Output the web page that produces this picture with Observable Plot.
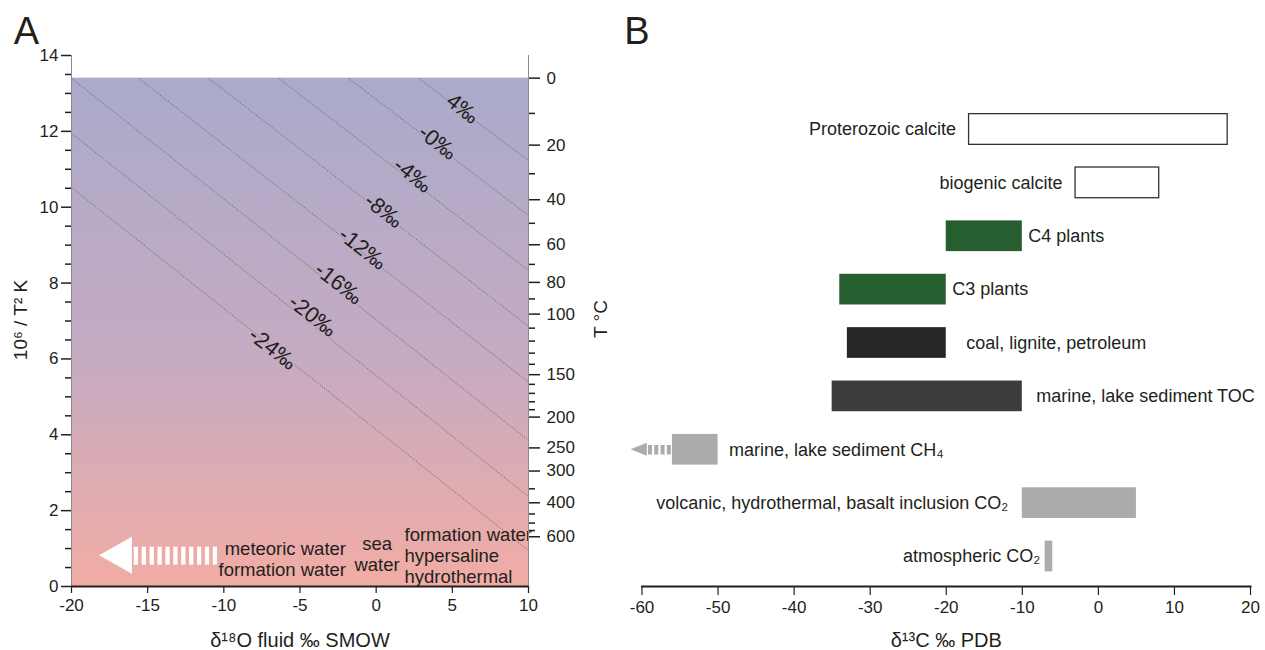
<!DOCTYPE html>
<html>
<head>
<meta charset="utf-8">
<script src="https://cdn.jsdelivr.net/npm/d3@7"></script>
<script src="https://cdn.jsdelivr.net/npm/@observablehq/plot@0.6"></script>
<style>
  body { margin: 0; background: #fff; }
  #wrap { display: flex; width: 1265px; height: 650px; }
  #wrap svg { display: block; }
</style>
</head>
<body>
<div id="wrap"></div>
<script>
// ================= DATA: panel A =================
const d18OTicks = [-20, -15, -10, -5, 0, 5, 10];
const invT2Major = [0, 2, 4, 6, 8, 10, 12, 14];
const invT2Minor = [0.5, 1, 1.5, 2.5, 3, 3.5, 4.5, 5, 5.5, 6.5, 7, 7.5, 8.5, 9, 9.5, 10.5, 11, 11.5, 12.5, 13, 13.5];
const tempMajorC = [0, 20, 40, 60, 80, 100, 150, 200, 250, 300, 400, 600];
const tempMinorC = [10, 30, 50, 70, 90, 110, 120, 130, 140, 160, 170, 180, 190, 350, 450, 500, 550];

const contourLabels = ["4‰", "-0‰", "-4‰", "-8‰", "-12‰", "-16‰", "-20‰", "-24‰"];
const contourX1 = [2.78, -1.82, -6.41, -11.0, -15.6, -20, -20, -20];
const contourY1 = [13.4, 13.4, 13.4, 13.4, 13.4, 13.4, 11.95, 10.52];
const contourX2 = [10, 10, 10, 10, 10, 10, 10, 10];
const contourY2 = [11.23, 9.78, 8.33, 6.86, 5.39, 3.85, 2.37, 0.95];
const contourLabelX = [5.67, 4.03, 2.39, 0.48, -0.90, -2.47, -4.18, -6.80];
const contourLabelY = [12.60, 11.71, 10.84, 9.91, 8.91, 7.99, 7.14, 6.27];

const waterTypes = ["meteoric water\nformation water", "sea\nwater", "formation water\nhypersaline\nhydrothermal"];
const waterX = [-1.98, 0.06, 1.86];
const waterY = [0.74, 0.86, 0.83];

// ================= DATA: panel B =================
const carbonSources = [
  "Proterozoic calcite", "biogenic calcite", "C4 plants", "C3 plants",
  "coal, lignite, petroleum", "marine, lake sediment TOC", "marine, lake sediment CH₄",
  "volcanic, hydrothermal, basalt inclusion CO₂", "atmospheric CO₂"
];
const d13cMin = [-17, -3, -20, -34, -33, -35, -56, -10, -7];
const d13cMax = [17, 8, -10, -20, -20, -10, -50, 5, -6];
const d13cTicks = [-60, -50, -40, -30, -20, -10, 0, 10, 20];

// ================= STYLE / LAYOUT =================
const FONT = "'Liberation Sans', Arial, Helvetica, sans-serif";
const INK = "#231f20";
const sourceFill = ["#ffffff", "#ffffff", "#265e2f", "#265e2f", "#262626", "#3c3c3e", "#aaabad", "#aaabad", "#aaabad"];
const sourceOutlined = [true, true, false, false, false, false, false, false, false];
const labelSide = ["left", "left", "right", "right", "right", "right", "right", "left", "left"];
const labelGapPx = [13, 13, 6, 6, 20, 14, 11, 14, 5];
const BAR_HALF = 0.2876;

const gradStops = [[0, "#aaaacb"], [0.55, "#c5abc2"], [1, "#f2aca4"]];

// temperature (°C) -> 10^6/T^2 (K) for the secondary axis
const T2Y = c => 1e6 / Math.pow(c + 273.15, 2);
const Y_TOP_FILL = T2Y(0);

// arrows (annotation glyphs)
const arrowA = {tip: -18.16, base: -16.0, end: -10.42, y: 0.81, half: 0.49};
const arrowB = {tip: -61.45, base: -59.3, end: -56, row: 6, half: 0.122};

const center = {textAnchor: "middle", lineAnchor: "middle"};

// ================= PANEL A =================
const cIdx = d3.range(contourLabels.length);
const haloScale = d3.scaleLinear()
  .domain(gradStops.map(s => Y_TOP_FILL * (1 - s[0])))
  .range(gradStops.map(s => s[1]))
  .interpolate(d3.interpolateRgb);

const majorPos = tempMajorC.map(T2Y);
const labelByPos = new Map(majorPos.map((p, i) => [p, String(tempMajorC[i])]));
const wIdx = d3.range(waterTypes.length);
const waterAnchor = ["end", "middle", "start"];

const panelA = Plot.plot({
  width: 620, height: 650,
  marginLeft: 71, marginRight: 92, marginTop: 55, marginBottom: 64,
  x: {domain: [-20, 10]},
  y: {domain: [0, 14]},
  color: {type: "identity"},
  style: {fontFamily: FONT, fontSize: "17px", color: INK, background: "transparent"},
  marks: [
    Plot.rect([0], {x1: -20, x2: 10, y1: 0, y2: Y_TOP_FILL, fill: "url(#bgGradA)"}),
    Plot.link(cIdx, {
      x1: i => contourX1[i], y1: i => contourY1[i], x2: i => contourX2[i], y2: i => contourY2[i],
      stroke: "#5a5a5a", strokeWidth: 0.85, strokeDasharray: "1.1,1.4"
    }),
    Plot.text(cIdx, {
      x: i => contourLabelX[i], y: i => contourLabelY[i], text: i => contourLabels[i],
      rotate: 38, fontSize: 22, fill: INK, stroke: i => haloScale(contourLabelY[i]), strokeWidth: 3
    }),
    // white arrow (meteoric direction)
    Plot.ruleY([arrowA.y], {x1: arrowA.base + 0.12, x2: arrowA.end, stroke: "white", strokeWidth: 18, strokeDasharray: "4.3,3.6"}),
    Plot.areaY([arrowA.tip, arrowA.base], {
      x: d => d, y1: d => d === arrowA.tip ? arrowA.y : arrowA.y - arrowA.half,
      y2: d => d === arrowA.tip ? arrowA.y : arrowA.y + arrowA.half, fill: "white", curve: "linear"
    }),
    ...waterAnchor.map((a) => Plot.text(wIdx.filter(i => waterAnchor[i] === a), {
      x: i => waterX[i], y: i => waterY[i], text: i => waterTypes[i],
      textAnchor: a, fontSize: 18.5, lineHeight: 1.13, fill: INK
    })),
    // axes lines
    Plot.ruleX([-20], {y1: 0, y2: 14, stroke: "#8a8a8a", strokeWidth: 1}),
    Plot.ruleX([10], {y1: 0, y2: 14, stroke: "#8a8a8a", strokeWidth: 1}),
    Plot.ruleY([0], {x1: -20, x2: 10, stroke: INK, strokeWidth: 2}),
    Plot.axisY(invT2Major, {anchor: "left", tickSize: 10, tickPadding: 3, fontSize: 17, strokeWidth: 1.5, tickFormat: d => String(d), label: null}),
    Plot.axisY(invT2Minor, {anchor: "left", tickSize: 6, strokeWidth: 1.5, tickFormat: () => "", label: null}),
    Plot.axisY(majorPos, {anchor: "right", tickSize: 11, tickPadding: 7, fontSize: 17, strokeWidth: 1.5, tickFormat: d => labelByPos.get(d), label: null}),
    Plot.axisY(tempMinorC.map(T2Y), {anchor: "right", tickSize: 6, strokeWidth: 1.5, tickFormat: () => "", label: null}),
    Plot.axisX(d18OTicks, {anchor: "bottom", tickSize: 7, tickPadding: 5, fontSize: 17, strokeWidth: 1.2, tickFormat: d => String(d), label: null}),
    // titles
    Plot.text(["δ¹⁸O fluid ‰ SMOW"], {frameAnchor: "bottom", dy: 54, fontSize: 20, fill: INK, ...center}),
    Plot.text(["10⁶ / T² K"], {frameAnchor: "left", dx: -51, dy: -1, rotate: -90, fontSize: 19, fill: INK, ...center}),
    Plot.text(["T °C"], {frameAnchor: "right", dx: 72, dy: -2, rotate: -90, fontSize: 19, fill: INK, ...center}),
    Plot.text(["A"], {frameAnchor: "top-left", dx: -45, dy: -24, fontSize: 38, fill: INK, ...center})
  ]
});

// gradient definition for the background fill
{
  const svg = d3.select(panelA.tagName.toLowerCase() === "svg" ? panelA : panelA.querySelector("svg"));
  const g = svg.insert("defs", ":first-child").append("linearGradient")
    .attr("id", "bgGradA").attr("x1", 0).attr("y1", 0).attr("x2", 0).attr("y2", 1);
  gradStops.forEach(([o, c]) => g.append("stop").attr("offset", o).attr("stop-color", c));
}

// ================= PANEL B =================
const rows = d3.range(carbonSources.length);
const panelB = Plot.plot({
  width: 645, height: 650,
  marginLeft: 21.5, marginRight: 15, marginTop: 55, marginBottom: 64,
  x: {domain: [-60, 20]},
  y: {domain: [0, 8], range: [129, 556], axis: null},
  color: {type: "identity"},
  style: {fontFamily: FONT, fontSize: "17px", color: INK, background: "transparent"},
  marks: [
    Plot.rect(rows, {
      x1: i => d13cMin[i], x2: i => d13cMax[i],
      y1: i => i - BAR_HALF, y2: i => i + BAR_HALF, fill: i => sourceFill[i]
    }),
    Plot.rect(rows.filter(i => sourceOutlined[i]), {
      x1: i => d13cMin[i], x2: i => d13cMax[i],
      y1: i => i - BAR_HALF, y2: i => i + BAR_HALF, fill: "none", stroke: "#333", strokeWidth: 1.3
    }),
    // gray arrow for CH4 (extends to more negative values)
    Plot.ruleY([arrowB.row], {x1: arrowB.base + 0.15, x2: arrowB.end, stroke: "#aaabad", strokeWidth: 9.5, strokeDasharray: "4,2.3"}),
    Plot.areaY([arrowB.tip, arrowB.base], {
      x: d => d, y1: d => d === arrowB.tip ? arrowB.row : arrowB.row - arrowB.half,
      y2: d => d === arrowB.tip ? arrowB.row : arrowB.row + arrowB.half, fill: "#aaabad", curve: "linear"
    }),
    ...rows.map(i => Plot.text([i], {
      x: labelSide[i] === "left" ? d13cMin[i] : d13cMax[i], y: i,
      text: () => carbonSources[i],
      textAnchor: labelSide[i] === "left" ? "end" : "start",
      dx: labelSide[i] === "left" ? -labelGapPx[i] : labelGapPx[i],
      fontSize: 18, fill: INK
    })),
    Plot.frame({anchor: "bottom", stroke: INK, strokeWidth: 2}),
    Plot.axisX(d13cTicks, {anchor: "bottom", tickSize: 9, tickPadding: 5, fontSize: 17, strokeWidth: 1.2, tickFormat: d => String(d), label: null}),
    Plot.text(["δ¹³C ‰ PDB"], {frameAnchor: "bottom", dy: 54, fontSize: 20, fill: INK, ...center}),
    Plot.text(["B"], {frameAnchor: "top-left", dx: -5, dy: -24, fontSize: 38, fill: INK, ...center})
  ]
});

document.getElementById("wrap").append(panelA, panelB);
</script>
</body>
</html>
